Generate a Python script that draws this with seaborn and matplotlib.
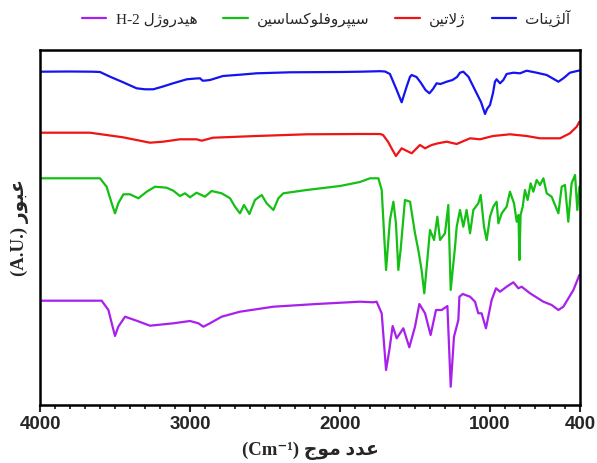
import numpy as np
import pandas as pd
import matplotlib.pyplot as plt
import seaborn as sns
from matplotlib.ticker import MultipleLocator, FixedLocator

sns.set_style('white')
plt.rcParams['font.family'] = ['Liberation Serif', 'DejaVu Sans']

# series labels (logical order, Persian)
label_alg = 'آلژینات'
label_gel = 'ژلاتین'
label_cip = 'سیپروفلوکساسین'
label_hyd = 'هیدروژل'
label_hyd_code = 'H-2'
xlabel_fa = 'عدد موج'
xlabel_unit = '(Cm⁻¹)'
ylabel_fa = 'عبور'
ylabel_unit = '(A.U.)'
xticks = [4000, 3000, 2000, 1000, 400]

# spectra (wavenumber, transmittance in A.U.)
alg_wn = [4000, 3800, 3650, 3600, 3533, 3450, 3356, 3300, 3245, 3180, 3113, 3022, 2960, 2933, 2916,
          2895, 2867, 2780, 2650, 2556, 2333, 2000, 1867, 1733, 1700, 1667, 1622, 1589, 1556, 1533,
          1522, 1490, 1460, 1430, 1404, 1380, 1356, 1330, 1289, 1250, 1220, 1200, 1178, 1144, 1100,
          1060, 1033, 1020, 1000, 980, 967, 956, 933, 911, 889, 844, 800, 756, 689, 622, 544, 511,
          467, 411, 400]
alg_t = [333.3, 333.5, 333.3, 333, 328.3, 323, 316.7, 315.7, 315.7, 318.5, 321.7, 325.7, 326.5, 326.7, 324.3,
         324.5, 325, 329, 330.5, 331.7, 332.7, 333, 333.3, 333.8, 333.5, 331, 315, 302.7, 318.3, 328.3,
         330, 328, 322, 315, 311.7, 316, 321.7, 321, 323.3, 325, 328, 332.3, 333.3, 328.3, 315,
         303, 291, 296, 300, 312, 323.3, 325.7, 321.7, 325, 331, 332.3, 331.7, 334.3, 332.3, 330, 323.3, 326.7,
         332.3, 334.3, 334.5]

gel_wn = [4000, 3667, 3447, 3267, 3180, 3067, 2956, 2922, 2847, 2556, 2222, 1867, 1733, 1713, 1680,
          1650, 1627, 1589, 1567, 1522, 1489, 1467, 1433, 1389, 1347, 1289, 1222, 1133, 1067, 980,
          867, 756, 667, 533, 467, 422, 404]
gel_t = [272.3, 272.3, 267.7, 262.3, 263.3, 265.7, 265.7, 264.3, 267.3, 269, 270.7, 271, 271, 270, 263.3,
         255, 249, 256.7, 255, 251.7, 256.7, 260, 256.7, 260, 261.7, 263.3, 261, 266.7, 265.7, 269,
         270.7, 269, 266.7, 266.7, 271.7, 278.3, 283.3]

cip_wn = [4000, 3800, 3600, 3556, 3522, 3500, 3478, 3444, 3400, 3344, 3289, 3233, 3156, 3111, 3067,
          3033, 3000, 2956, 2900, 2856, 2789, 2733, 2700, 2667, 2640, 2604, 2567, 2522, 2489, 2444,
          2411, 2378, 2222, 2000, 1867, 1800, 1744, 1722, 1693, 1667, 1644, 1627, 1611, 1596, 1567,
          1533, 1500, 1478, 1456, 1438, 1422, 1400, 1373, 1351, 1333, 1300, 1278, 1262, 1233, 1222,
          1200, 1178, 1156, 1133, 1111, 1078, 1062, 1040, 1022, 1000, 978, 956, 944, 922, 889,
          867, 840, 822, 810, 804, 796, 782, 767, 749, 729, 711, 689, 667, 644, 622,
          589, 544, 522, 500, 478, 456, 433, 418, 404]
cip_t = [226.7, 226.7, 226.7, 218.3, 201.7, 191.7, 201.7, 210.7, 210.7, 206.7, 213.3, 218.3, 217.3, 214.3, 209,
         211.7, 207.7, 212.3, 208.3, 214, 211.7, 206.7, 198.3, 191.7, 200, 191, 205, 210, 201.7, 195,
         206.7, 211.7, 215, 219, 223, 226.7, 226.7, 215, 135, 185, 203.3, 181.7, 135, 155, 205,
         203.3, 171.7, 155, 135, 111.7, 138.3, 175, 165, 188.3, 165, 171.7, 200, 115, 158.3, 178.3,
         195, 178.3, 195, 171.7, 195, 201.7, 210, 178.3, 165, 188.3, 198.3, 203.3, 181.7, 191.7, 198.3,
         213.3, 201.7, 183.3, 190, 145, 190, 198.3, 215, 205, 221.7, 213.3, 225, 220, 226.7, 211.7,
         208.3, 191.7, 218.3, 220, 183.3, 221.7, 230, 195, 218.3]

hyd_wn = [4000, 3800, 3589, 3544, 3516, 3500, 3478, 3433, 3356, 3267, 3111, 3000, 2944, 2911, 2867,
          2789, 2667, 2444, 2156, 1867, 1778, 1756, 1722, 1693, 1671, 1649, 1622, 1578, 1538, 1500,
          1471, 1433, 1396, 1360, 1322, 1284, 1262, 1240, 1211, 1204, 1182, 1133, 1100, 1078, 1056,
          1027, 989, 960, 933, 889, 844, 811, 789, 767, 733, 644, 589, 544, 511, 444, 404]
hyd_t = [104.3, 104.3, 104.3, 95, 78.3, 69, 78.3, 88.3, 84.3, 79.3, 81.7, 84, 81.7, 78.3, 81.7,
         88.3, 93.3, 98.3, 101, 103.3, 102.7, 103.3, 91.7, 35, 55, 79, 66.7, 76.7, 57.7, 78.3,
         101, 91.7, 70, 95, 95, 99, 18.3, 68.3, 85, 108.3, 111, 108.3, 103.3, 91.7, 91.7,
         76.7, 105, 116.7, 113.3, 118.3, 122.7, 116.7, 118.3, 115.7, 111.7, 103.3, 100, 95, 98.3, 115, 130]


def shape_fa(text):
    """Arabic-script text -> presentation forms in left-to-right visual order."""
    forms = {
        'ا': ('\uFE8D', '\uFE8E', None, None), 'آ': ('\uFE81', '\uFE82', None, None),
        'ب': ('\uFE8F', '\uFE90', '\uFE91', '\uFE92'), 'پ': ('\uFB56', '\uFB57', '\uFB58', '\uFB59'),
        'ت': ('\uFE95', '\uFE96', '\uFE97', '\uFE98'), 'ج': ('\uFE9D', '\uFE9E', '\uFE9F', '\uFEA0'),
        'د': ('\uFEA9', '\uFEAA', None, None), 'ر': ('\uFEAD', '\uFEAE', None, None),
        'ژ': ('\uFB8A', '\uFB8B', None, None), 'س': ('\uFEB1', '\uFEB2', '\uFEB3', '\uFEB4'),
        'ع': ('\uFEC9', '\uFECA', '\uFECB', '\uFECC'), 'ف': ('\uFED1', '\uFED2', '\uFED3', '\uFED4'),
        'ک': ('\uFB8E', '\uFB8F', '\uFB90', '\uFB91'), 'ل': ('\uFEDD', '\uFEDE', '\uFEDF', '\uFEE0'),
        'م': ('\uFEE1', '\uFEE2', '\uFEE3', '\uFEE4'), 'ن': ('\uFEE5', '\uFEE6', '\uFEE7', '\uFEE8'),
        'ه': ('\uFEE9', '\uFEEA', '\uFEEB', '\uFEEC'), 'و': ('\uFEED', '\uFEEE', None, None),
        'ی': ('\uFBFC', '\uFBFD', '\uFBFE', '\uFBFF'),
    }
    lamalef = {'ا': ('\uFEFB', '\uFEFC'), 'آ': ('\uFEF5', '\uFEF6')}
    out = []
    i = 0
    while i < len(text):
        ch = text[i]
        prev = text[i - 1] if i > 0 else ''
        nxt = text[i + 1] if i + 1 < len(text) else ''
        joins_prev = prev in forms and forms[prev][2] is not None
        if ch not in forms:
            out.append(ch)
            i += 1
            continue
        if ch == 'ل' and nxt in lamalef:
            out.append(lamalef[nxt][1 if joins_prev else 0])
            i += 2
            continue
        iso, fin, ini, med = forms[ch]
        joins_next = ini is not None and nxt in forms
        if joins_prev and joins_next:
            out.append(med)
        elif joins_prev:
            out.append(fin)
        elif joins_next:
            out.append(ini)
        else:
            out.append(iso)
        i += 1
    return ''.join(reversed(out))


fig = plt.figure(figsize=(5.97, 4.63), dpi=100)
ax = fig.add_axes([40 / 597, 58 / 463, 540 / 597, 355 / 463])

series = [
    (alg_wn, alg_t, '#1414f0', shape_fa(label_alg)),
    (gel_wn, gel_t, '#f01414', shape_fa(label_gel)),
    (cip_wn, cip_t, '#14c014', shape_fa(label_cip)),
    (hyd_wn, hyd_t, '#a820ec', label_hyd_code + ' ' + shape_fa(label_hyd)),
]
handles = {}
for wn, t, col, lab in series:
    df = pd.DataFrame({'wn': wn, 't': t})
    sns.lineplot(data=df, x='wn', y='t', ax=ax, color=col, lw=1.6, sort=False,
                 estimator=None, label=lab, legend=False)
    handles[lab] = ax.lines[-1]

ax.set_xlim(4000, 400)
ax.set_ylim(0, 355)
ax.xaxis.set_major_locator(FixedLocator(xticks))
ax.xaxis.set_minor_locator(MultipleLocator(100))
ax.set_xticklabels([str(v) for v in xticks], fontfamily='Liberation Sans', fontweight='bold', fontsize=13.5)
ax.tick_params(axis='x', which='major', direction='out', length=5, width=1.5, pad=3, bottom=True)
ax.tick_params(axis='x', which='minor', direction='out', length=3, width=1.3, bottom=True)
ax.set_yticks([])
for sp in ax.spines.values():
    sp.set_color('black')
    sp.set_linewidth(1.8)

ax.set_xlabel(xlabel_unit + ' ' + shape_fa(xlabel_fa), fontsize=13.5, fontweight='bold', labelpad=6)
ax.set_ylabel(ylabel_unit + ' ' + shape_fa(ylabel_fa), fontsize=13.5, fontweight='bold', labelpad=8)

order = [series[3][3], series[2][3], series[1][3], series[0][3]]
ax.legend([handles[k] for k in order], order, loc='lower center', bbox_to_anchor=(0.53, 1.045),
          ncol=4, frameon=False, fontsize=11, handlelength=1.6, handletextpad=0.6,
          columnspacing=1.7, borderaxespad=0)

plt.savefig('out.png', dpi=100)
